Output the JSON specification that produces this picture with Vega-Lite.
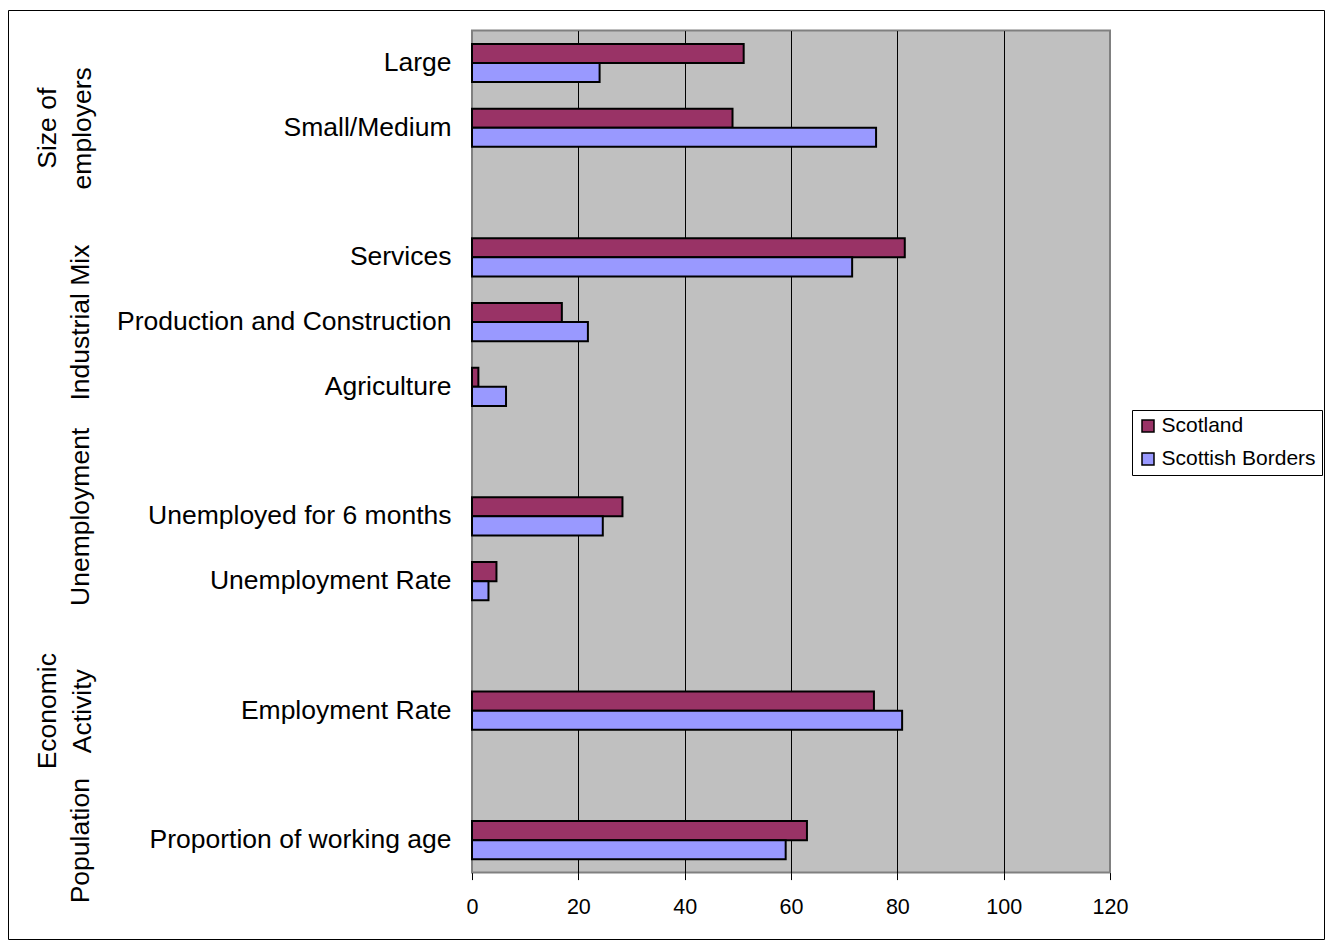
{
  "$schema": "https://vega.github.io/schema/vega-lite/v6.json",
  "autosize": {"type": "none"},
  "padding": {"left": 472, "top": 30.6, "right": 215, "bottom": 67.4},
  "width": 638,
  "height": 842,
  "background": "white",
  "config": {
    "font": "Liberation Sans",
    "view": {"fill": "#C0C0C0", "stroke": "#808080", "strokeWidth": 2},
    "axis": {"labelFont": "Liberation Sans", "labelColor": "black", "title": null},
    "legend": {"labelFont": "Liberation Sans"}
  },
  "resolve": {"scale": {"x": "independent", "y": "independent"}},
  "layer": [
    {
      "data": {"values": [
        {"category": "Large", "area": "Scotland", "value": 51.1},
        {"category": "Large", "area": "Scottish Borders", "value": 24.0},
        {"category": "Small/Medium", "area": "Scotland", "value": 49.0},
        {"category": "Small/Medium", "area": "Scottish Borders", "value": 76.0},
        {"category": "Services", "area": "Scotland", "value": 81.4},
        {"category": "Services", "area": "Scottish Borders", "value": 71.5},
        {"category": "Production and Construction", "area": "Scotland", "value": 16.9},
        {"category": "Production and Construction", "area": "Scottish Borders", "value": 21.8},
        {"category": "Agriculture", "area": "Scotland", "value": 1.2},
        {"category": "Agriculture", "area": "Scottish Borders", "value": 6.4},
        {"category": "Unemployed for 6 months", "area": "Scotland", "value": 28.3},
        {"category": "Unemployed for 6 months", "area": "Scottish Borders", "value": 24.6},
        {"category": "Unemployment Rate", "area": "Scotland", "value": 4.6},
        {"category": "Unemployment Rate", "area": "Scottish Borders", "value": 3.1},
        {"category": "Employment Rate", "area": "Scotland", "value": 75.6},
        {"category": "Employment Rate", "area": "Scottish Borders", "value": 80.9},
        {"category": "Proportion of working age", "area": "Scotland", "value": 63.0},
        {"category": "Proportion of working age", "area": "Scottish Borders", "value": 59.0}
      ]},
      "mark": {"type": "bar", "stroke": "black", "strokeWidth": 2},
      "encoding": {
        "y": {
          "field": "category", "type": "nominal",
          "scale": {
            "domain": ["Large", "Small/Medium", "gap1", "Services", "Production and Construction", "Agriculture", "gap2", "Unemployed for 6 months", "Unemployment Rate", "gap3", "Employment Rate", "gap4", "Proportion of working age"],
            "paddingInner": 0.41, "paddingOuter": 0.205
          },
          "axis": {
            "orient": "left", "title": null, "domain": false, "ticks": false, "tickSize": 0,
            "labelPadding": 21, "labelFontSize": 26.5, "labelLimit": 600, "labelOverlap": false,
            "labelExpr": "indexof(datum.value, 'gap') == 0 ? '' : datum.value", "grid": false
          }
        },
        "yOffset": {
          "field": "area", "type": "nominal",
          "scale": {"domain": ["Scotland", "Scottish Borders"], "paddingInner": 0, "paddingOuter": 0}
        },
        "x": {
          "field": "value", "type": "quantitative",
          "scale": {"domain": [0, 120], "nice": false},
          "axis": {
            "values": [0, 20, 40, 60, 80, 100, 120], "title": null, "domain": false,
            "tickColor": "black", "tickSize": 7, "labelPadding": 17, "labelFontSize": 21.5, "labelFlush": false,
            "grid": true, "gridWidth": 1,
            "gridColor": {"condition": {"test": "datum.value == 0 || datum.value == 120", "value": "transparent"}, "value": "black"}
          }
        },
        "color": {
          "field": "area", "type": "nominal",
          "scale": {"domain": ["Scotland", "Scottish Borders"], "range": ["#993366", "#9999FF"]},
          "legend": {
            "title": null, "orient": "none", "legendX": 660, "legendY": 379.4,
            "symbolType": "square", "symbolSize": 144, "symbolStrokeColor": "black", "symbolStrokeWidth": 1.5,
            "labelFontSize": 21, "labelColor": "black", "labelOffset": 3,
            "strokeColor": "black", "fillColor": "white", "padding": 5.5, "rowPadding": 11
          }
        }
      }
    },
    {
      "data": {"values": [
        {"group": "Size of employers"},
        {"group": "Industrial Mix"},
        {"group": "Economic Activity"},
        {"group": "Population"}
      ]},
      "mark": {"type": "point", "opacity": 0},
      "encoding": {
        "y": {
          "field": "group", "type": "nominal",
          "scale": {
            "domain": ["r0", "Size of employers", "r2", "r3", "Industrial Mix", "r5", "r6", "r7", "r8", "r9", "Economic Activity", "r11", "Population"],
            "paddingInner": 0, "paddingOuter": 0
          },
          "axis": {
            "orient": "left", "bandPosition": 0, "title": null, "domain": false, "ticks": false, "tickSize": 0, "grid": false,
            "values": ["Size of employers", "Industrial Mix", "Economic Activity", "Population"],
            "labelAngle": 270, "labelAlign": "center", "labelBaseline": "bottom",
            "labelPadding": {"condition": {"test": "datum.value == 'Size of employers' || datum.value == 'Economic Activity'", "value": 411}, "value": 378},
            "labelFontSize": 26.5, "labelLineHeight": 35,
            "labelOverlap": false, "labelBound": false, "labelFlush": false, "labelLimit": 0,
            "labelExpr": "datum.value == 'Size of employers' ? ['Size of', 'employers'] : datum.value == 'Economic Activity' ? ['Economic', 'Activity'] : datum.value"
          }
        }
      }
    },
    {
      "data": {"values": [{"group": "Unemployment"}]},
      "mark": {"type": "point", "opacity": 0},
      "encoding": {
        "y": {
          "field": "group", "type": "nominal",
          "scale": {
            "domain": ["r0", "r1", "r2", "r3", "r4", "r5", "r6", "Unemployment", "r8", "r9", "r10", "r11", "r12"],
            "paddingInner": 0, "paddingOuter": 0
          },
          "axis": {
            "orient": "left", "bandPosition": 0.5, "title": null, "domain": false, "ticks": false, "tickSize": 0, "grid": false,
            "values": ["Unemployment"],
            "labelAngle": 270, "labelAlign": "center", "labelBaseline": "bottom",
            "labelPadding": 378, "labelFontSize": 26.5,
            "labelOverlap": false, "labelBound": false, "labelFlush": false, "labelLimit": 0
          }
        }
      }
    },
    {
      "data": {"values": [{"f": 0}, {"f": 1}]},
      "mark": {"type": "point", "opacity": 0},
      "encoding": {
        "x": {
          "field": "f", "type": "quantitative",
          "scale": {"domain": [0, 1], "range": [-464, 852], "nice": false, "zero": false},
          "axis": {"orient": "top", "offset": 20.6, "title": null, "labels": false, "ticks": false, "grid": false, "domain": true, "domainColor": "black", "domainWidth": 1}
        },
        "y": {
          "field": "f", "type": "quantitative",
          "scale": {"domain": [0, 1], "range": [908.4, -20.6], "nice": false, "zero": false},
          "axis": {"orient": "left", "offset": 464, "title": null, "labels": false, "ticks": false, "grid": false, "domain": true, "domainColor": "black", "domainWidth": 1}
        }
      }
    },
    {
      "data": {"values": [{"f": 0}, {"f": 1}]},
      "mark": {"type": "point", "opacity": 0},
      "encoding": {
        "x": {
          "field": "f", "type": "quantitative",
          "scale": {"domain": [0, 1], "range": [-464, 852], "nice": false, "zero": false},
          "axis": {"orient": "bottom", "offset": 66.4, "title": null, "labels": false, "ticks": false, "grid": false, "domain": true, "domainColor": "black", "domainWidth": 1}
        },
        "y": {
          "field": "f", "type": "quantitative",
          "scale": {"domain": [0, 1], "range": [908.4, -20.6], "nice": false, "zero": false},
          "axis": {"orient": "right", "offset": 214, "title": null, "labels": false, "ticks": false, "grid": false, "domain": true, "domainColor": "black", "domainWidth": 1}
        }
      }
    }
  ]
}
